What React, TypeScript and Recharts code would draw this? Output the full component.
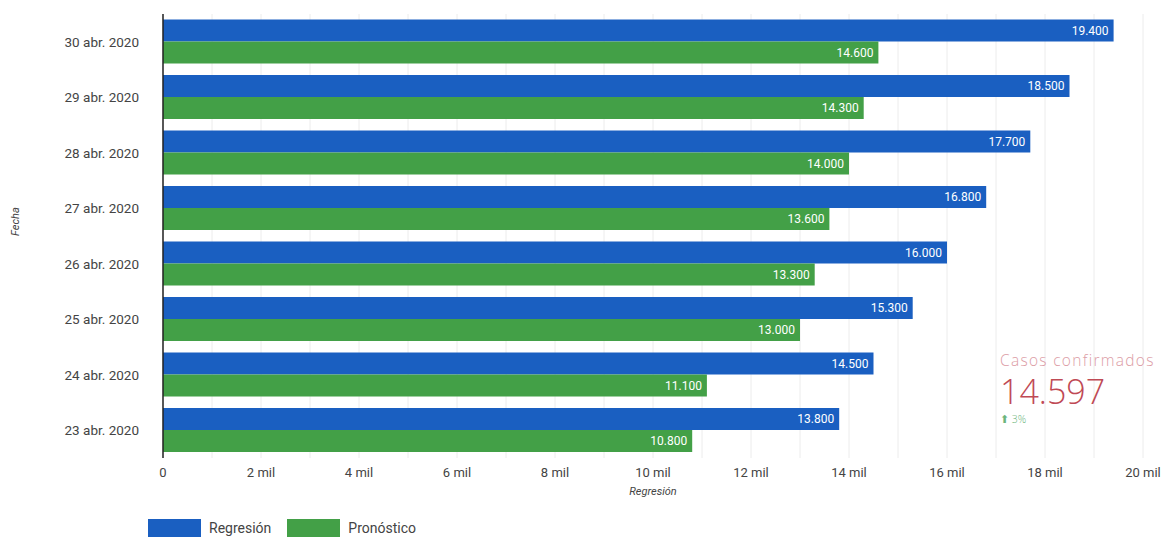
import React from 'react';
import { BarChart, Bar, XAxis, YAxis, CartesianGrid, LabelList } from 'recharts';

const categories = ['30 abr. 2020', '29 abr. 2020', '28 abr. 2020', '27 abr. 2020', '26 abr. 2020', '25 abr. 2020', '24 abr. 2020', '23 abr. 2020'];
const regresion = [19400, 18500, 17700, 16800, 16000, 15300, 14500, 13800];
const pronostico = [14600, 14300, 14000, 13600, 13300, 13000, 11100, 10800];
const xTicks = [0, 1000, 2000, 3000, 4000, 5000, 6000, 7000, 8000, 9000, 10000, 11000, 12000, 13000, 14000, 15000, 16000, 17000, 18000, 19000, 20000];

const data = categories.map((c, i) => ({ fecha: c, regresion: regresion[i], pronostico: pronostico[i] }));

const BLUE = '#1a5fc1';
const GREEN = '#43a047';
const FONT = 'Roboto, "Noto Sans", sans-serif';

const fmtDot = (v: any) => {
  const n = Number(v);
  return n.toString().replace(/\B(?=(\d{3})+(?!\d))/g, '.');
};

const fmtTick = (v: number) => {
  if (v === 0) return '0';
  if (v % 2000 !== 0) return '';
  return `${v / 1000} mil`;
};

export default function App() {
  return (
    <div style={{ position: 'absolute', left: 0, top: 0, width: 1172, height: 539, background: '#fff', fontFamily: FONT, overflow: 'hidden' }}>
      <BarChart
        width={1172}
        height={539}
        data={data}
        layout="vertical"
        margin={{ top: 14, right: 29, left: 0, bottom: 41 }}
        barCategoryGap="10%"
        barGap={0}
      >
        <CartesianGrid horizontal={false} stroke="#ececec" />
        <XAxis
          type="number"
          domain={[0, 20000]}
          ticks={xTicks}
          interval={0}
          tickFormatter={fmtTick}
          axisLine={false}
          tickLine={false}
          tickSize={6}
          tickMargin={4}
          tick={{ fill: '#444', fontSize: 13, fontFamily: FONT }}
          label={{ value: 'Regresión', position: 'insideBottom', offset: 3, fill: '#444', fontSize: 11, fontStyle: 'italic', fontFamily: FONT }}
          height={40}
        />
        <YAxis
          type="category"
          dataKey="fecha"
          width={163}
          axisLine={{ stroke: '#222', strokeWidth: 1.5 }}
          tickLine={false}
          tickMargin={18}
          tick={{ fill: '#444', fontSize: 13.5, fontFamily: FONT }}
          label={{ value: 'Fecha', angle: -90, position: 'insideLeft', dx: 10, fill: '#444', fontSize: 11, fontStyle: 'italic', fontFamily: FONT }}
        />
        <Bar dataKey="regresion" fill={BLUE} isAnimationActive={false}>
          <LabelList dataKey="regresion" position="insideRight" formatter={fmtDot} fill="#fff" fontSize={12} fontFamily={FONT} />
        </Bar>
        <Bar dataKey="pronostico" fill={GREEN} isAnimationActive={false}>
          <LabelList dataKey="pronostico" position="insideRight" formatter={fmtDot} fill="#fff" fontSize={12} fontFamily={FONT} />
        </Bar>
      </BarChart>

      <div style={{ position: 'absolute', left: 148, top: 519, display: 'flex', alignItems: 'center', fontSize: 14, color: '#444' }}>
        <div style={{ width: 53, height: 18, background: BLUE }} />
        <span style={{ marginLeft: 8 }}>Regresión</span>
        <div style={{ width: 53, height: 18, background: GREEN, marginLeft: 16 }} />
        <span style={{ marginLeft: 8 }}>Pronóstico</span>
      </div>

      <div style={{ position: 'absolute', left: 1000, top: 351, fontFamily: '"Open Sans", sans-serif', fontWeight: 300 }}>
        <div style={{ fontSize: 15.5, color: '#dc9ca5', lineHeight: '19px', letterSpacing: 1.3, whiteSpace: 'nowrap' }}>Casos confirmados</div>
        <div style={{ fontSize: 34, color: '#bf4a55', lineHeight: '34px', marginTop: 4 }}>14.597</div>
        <div style={{ fontSize: 10.5, color: '#6cb57c', lineHeight: '14px', marginTop: 4 }}>⬆ 3%</div>
      </div>
    </div>
  );
}
